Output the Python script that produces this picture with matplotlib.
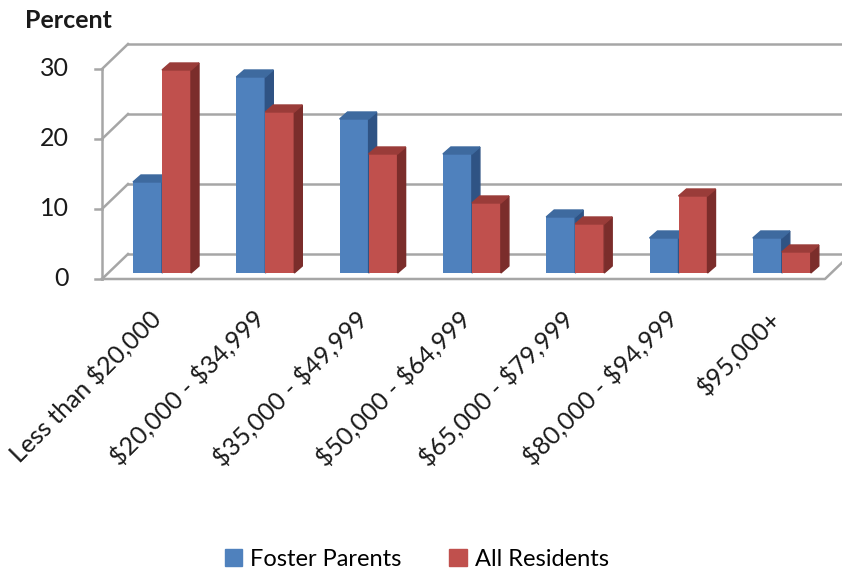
import numpy as np
import matplotlib.pyplot as plt
from matplotlib.patches import Polygon, Patch

# data
categories = ["Less than $20,000", "$20,000 - $34,999", "$35,000 - $49,999",
              "$50,000 - $64,999", "$65,000 - $79,999", "$80,000 - $94,999",
              "$95,000+"]
foster = [13, 28, 22, 17, 8, 5, 5]
residents = [29, 23, 17, 10, 7, 11, 3]
yticks = [0, 10, 20, 30]
series_names = ["Foster Parents", "All Residents"]

plt.rcParams['font.family'] = ['Lato', 'DejaVu Sans']
plt.rcParams['text.parse_math'] = False

# pixel scale of the pseudo-3d drawing
PX = 103.3          # px per category
PY = 7.0            # px per percent
W, H = 842, 571
x0, y0 = 162, 273   # px of first group centre / bar base

fig = plt.figure(figsize=(W / 100, H / 100), dpi=100)
ax = fig.add_axes([0, 0, 1, 1])
ax.set_xlim(-x0 / PX, (W - x0) / PX)
ax.set_ylim((y0 - H) / PY, y0 / PY)
ax.axis('off')

# walls / floor geometry (data units)
fx, bx = (102 - x0) / PX, (128 - x0) / PX          # front / back left edge
fr = (825 - x0) / PX                                # front right edge
dwx, dwy = bx - fx, 19 / PY + 6 / PY                # wall depth offset
fy0 = -6 / PY                                       # front floor level
grid_c = '#a6a6a6'

for v in yticks:
    ax.plot([fx, bx], [v + fy0, v + fy0 + dwy], color=grid_c, lw=1.8, zorder=1)
    ax.plot([bx, fr + dwx], [v + fy0 + dwy] * 2, color=grid_c, lw=1.8, zorder=1)
    ax.plot([fx - 7 / PX, fx], [v + fy0] * 2, color=grid_c, lw=1.8, zorder=1)
    ax.text(fx - 33 / PX, v + fy0, str(v), ha='right', va='center',
            fontsize=18, color='#1a1a1a')
ax.plot([fx, fx], [fy0, yticks[-1] + fy0], color=grid_c, lw=1.8, zorder=1)
ax.plot([fx, fr, fr + dwx], [fy0, fy0, fy0 + dwy], color=grid_c, lw=1.8, zorder=1)

# bars
bw = 29 / PX
ddx, ddy = 8 / PX, 7 / PY
colors = [('#4F81BD', '#3E6A9F', '#2F5384'), ('#C0504D', '#9A3C39', '#7B2D2B')]
for i in range(len(categories)):
    for k, vals in enumerate([foster, residents]):
        x = i - bw + k * bw
        v = vals[i]
        front, top, side = colors[k]
        z = 2 + i * 0.1 + k * 0.01
        ax.bar(x, v, width=bw, align='edge', color=front, zorder=z)
        ax.add_patch(Polygon([(x + bw, 0), (x + bw + ddx, ddy), (x + bw + ddx, v + ddy), (x + bw, v)],
                             closed=True, color=side, zorder=z))
        ax.add_patch(Polygon([(x, v), (x + bw, v), (x + bw + ddx, v + ddy), (x + ddx, v + ddy)],
                             closed=True, color=top, zorder=z))
    ax.text(i - 14 / PX, (y0 - 306) / PY, categories[i], rotation=45,
            rotation_mode='anchor', ha='right', va='top', fontsize=18, color='#1a1a1a')

ax.text((25 - x0) / PX, (y0 - 20) / PY, "Percent", ha='left', va='center',
        fontsize=18, fontweight='bold', color='#1a1a1a')

handles = [Patch(color=colors[0][0]), Patch(color=colors[1][0])]
fig.legend(handles, series_names, loc='center', bbox_to_anchor=(0.495, 0.02),
           ncol=2, frameon=False, fontsize=17, handlelength=0.75, handleheight=0.75,
           handletextpad=0.35, columnspacing=2.0)

fig.savefig('out.png', dpi=100)
